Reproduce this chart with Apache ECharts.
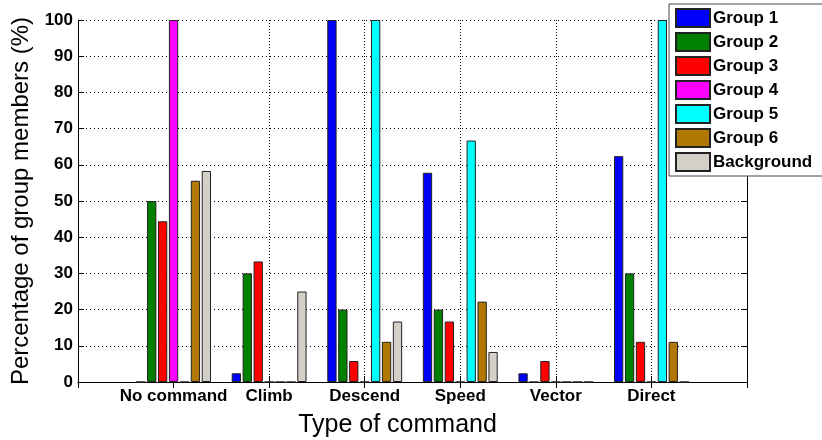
<!DOCTYPE html>
<html>
<head>
<meta charset="utf-8">
<script src="https://cdn.jsdelivr.net/npm/echarts@6/dist/echarts.min.js"></script>
<style>
  html, body { margin: 0; padding: 0; background: #fff; }
  #chart { width: 822px; height: 440px; }
</style>
</head>
<body>
<div id="chart"></div>
<script>
// Command types on the x axis
const categories = ['No command', 'Climb', 'Descend', 'Speed', 'Vector', 'Direct'];

// Percentage of group members issuing each command type
const group1 = [0, 2.4, 100, 57.8, 2.4, 62.4];
const group2 = [50, 30, 20, 20, 0, 30];
const group3 = [44.4, 33.3, 5.8, 16.7, 5.8, 11.1];
const group4 = [100, 0, 0, 0, 0, 0];
const group5 = [0, 0, 100, 66.7, 0, 100];
const group6 = [55.6, 0, 11.1, 22.2, 0, 11.1];
const background = [58.3, 25, 16.7, 8.3, 0, 0];

const seriesNames = ['Group 1', 'Group 2', 'Group 3', 'Group 4', 'Group 5', 'Group 6', 'Background'];
const seriesValues = [group1, group2, group3, group4, group5, group6, background];
const seriesColors = ['#0000ff', '#008000', '#ff0000', '#ff00ff', '#00ffff', '#b07800', '#d4d0c8'];

const yTicks = [0, 10, 20, 30, 40, 50, 60, 70, 80, 90, 100];

const FONT = '"Liberation Sans", Arial, sans-serif';

// empty slots at both ends so the axis runs from 0 to 7 with commands at 1..6
const axisCats = [''].concat(categories, ['']);
const pad = arr => ['-'].concat(arr, ['-']);

const chart = echarts.init(document.getElementById('chart'), null, { renderer: 'canvas' });

chart.setOption({
  animation: false,
  backgroundColor: '#ffffff',
  grid: { left: 78, right: 75, top: 20, bottom: 58, containLabel: false, outerBoundsMode: 'none' },
  legend: {
    orient: 'vertical',
    left: 669,
    top: 4,
    itemWidth: 34,
    itemHeight: 18,
    itemGap: 4,
    padding: [4, 12, 4, 6],
    backgroundColor: '#ffffff',
    borderColor: '#444444',
    borderWidth: 1,
    borderRadius: 0,
    icon: 'rect',
    textStyle: { fontFamily: FONT, fontSize: 17, fontWeight: 'bold', color: '#000', padding: [0, 0, 0, -2] },
    data: seriesNames
  },
  xAxis: [
    {
      type: 'category',
      data: axisCats,
      boundaryGap: false,
      name: 'Type of command',
      nameLocation: 'middle',
      nameGap: 31,
      nameTextStyle: { fontFamily: FONT, fontSize: 25, color: '#000', padding: [0, 30, 0, 0] },
      axisLine: { lineStyle: { color: '#000', width: 1 } },
      axisTick: { inside: true, length: 6, interval: 0, lineStyle: { color: '#000' } },
      axisLabel: { interval: 0, fontFamily: FONT, fontSize: 17, fontWeight: 'bold', color: '#000', margin: 6 },
      splitLine: { show: true, interval: 0, lineStyle: { color: '#000', type: [1, 2], width: 1 } }
    },
    {
      type: 'category',
      data: axisCats,
      boundaryGap: false,
      position: 'top',
      axisLine: { lineStyle: { color: '#000', width: 1 } },
      axisTick: { inside: true, length: 6, interval: 0, lineStyle: { color: '#000' } },
      axisLabel: { show: false },
      splitLine: { show: false }
    }
  ],
  yAxis: [
    {
      type: 'value',
      min: yTicks[0],
      max: yTicks[yTicks.length - 1],
      interval: 10,
      name: 'Percentage of group members (%)',
      nameLocation: 'middle',
      nameGap: 40,
      nameTextStyle: { fontFamily: FONT, fontSize: 24, color: '#000' },
      axisLine: { show: true, lineStyle: { color: '#000', width: 1 } },
      axisTick: { show: true, inside: true, length: 6, lineStyle: { color: '#000' } },
      axisLabel: { fontFamily: FONT, fontSize: 17, fontWeight: 'bold', color: '#000', margin: 5 },
      splitLine: { show: true, lineStyle: { color: '#000', type: [1, 3], width: 1 } }
    },
    {
      type: 'value',
      min: yTicks[0],
      max: yTicks[yTicks.length - 1],
      interval: 10,
      position: 'right',
      axisLine: { show: true, lineStyle: { color: '#000', width: 1 } },
      axisTick: { show: true, inside: true, length: 6, lineStyle: { color: '#000' } },
      axisLabel: { show: false },
      splitLine: { show: false }
    }
  ],
  series: seriesNames.map((name, i) => ({
    name: name,
    type: 'bar',
    xAxisIndex: 0,
    yAxisIndex: 0,
    barWidth: 9.3,
    barGap: '17.5%',
    data: pad(seriesValues[i]),
    itemStyle: { color: seriesColors[i], borderColor: '#222', borderWidth: 1 }
  }))
});
</script>
</body>
</html>
